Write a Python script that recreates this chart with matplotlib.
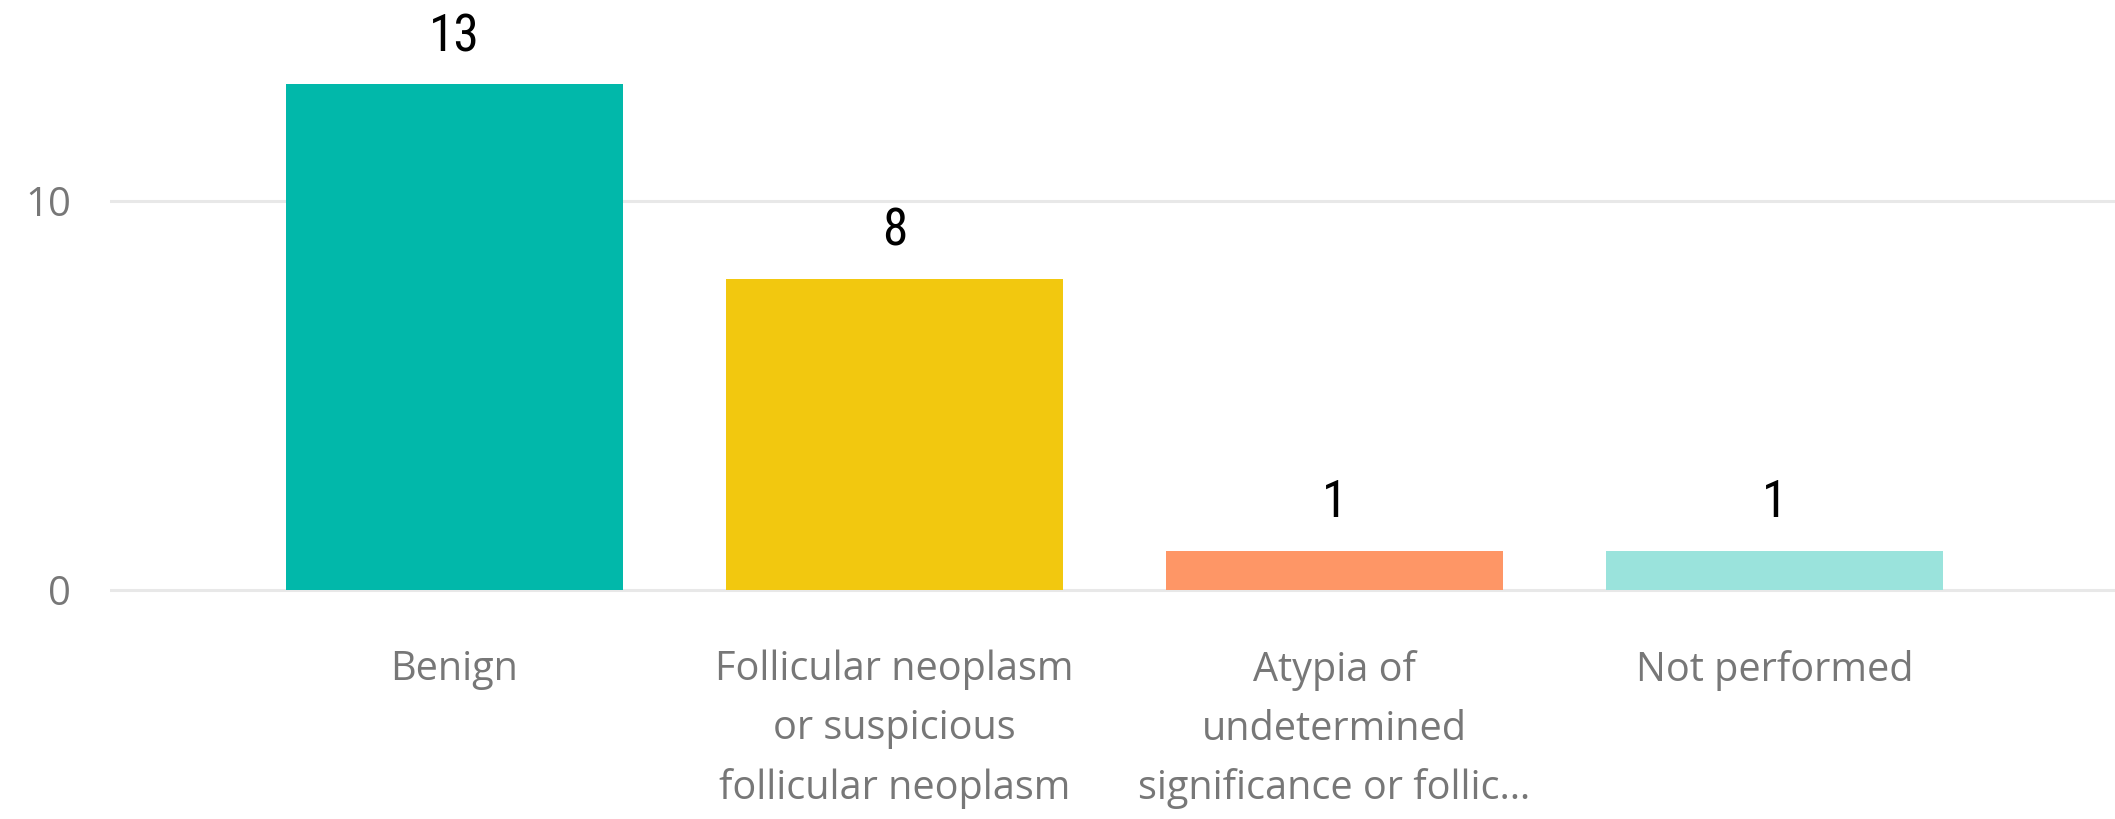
import matplotlib
matplotlib.use("Agg")
import matplotlib.pyplot as plt
from matplotlib import font_manager

# data
categories = [
    "Benign",
    "Follicular neoplasm\nor suspicious\nfollicular neoplasm",
    "Atypia of\nundetermined\nsignificance or follic\u2026",
    "Not performed",
]
counts = [13, 8, 1, 1]
colors = ["#01B8AA", "#F2C80F", "#FE9666", "#9AE3DC"]
yticks = [0, 10]

names = {f.name for f in font_manager.fontManager.ttflist}
label_font = "Roboto"
for cand in ["Liberation Sans Narrow", "Roboto Condensed", "DejaVu Sans Condensed"]:
    if cand in names:
        label_font = cand
        break
plt.rcParams["font.family"] = ["Open Sans", "DejaVu Sans"]

W, H = 2115, 819
fig = plt.figure(figsize=(W / 100, H / 100), dpi=100)
ax = fig.add_axes([110 / W, 0.2659, 1 - 110 / W, 0.734])

x = list(range(len(categories)))
ax.bar(x, counts, width=0.766, color=colors, zorder=3)

ax.set_xlim(-0.783, 3.774)
ax.set_ylim(-0.3, 15.17)
ax.set_yticks(yticks)
ax.set_xticks(x)
ax.set_xticklabels(categories, linespacing=1.6)
ax.yaxis.grid(True, color="#E8E8E8", linewidth=2.2)
ax.set_axisbelow(True)
ax.tick_params(axis="y", length=0, pad=28, labelsize=29, labelcolor="#777777")
ax.tick_params(axis="x", length=0, pad=35, labelsize=28.5, labelcolor="#777777")
for s in ax.spines.values():
    s.set_visible(False)

for xi, v in zip(x, counts):
    ax.annotate(str(v), (xi, v), xytext=(0, 34), textcoords="offset points",
                ha="center", va="center", fontsize=37, color="black",
                family=label_font, fontstretch="condensed")

fig.savefig("out.png", dpi=100, facecolor="white")
